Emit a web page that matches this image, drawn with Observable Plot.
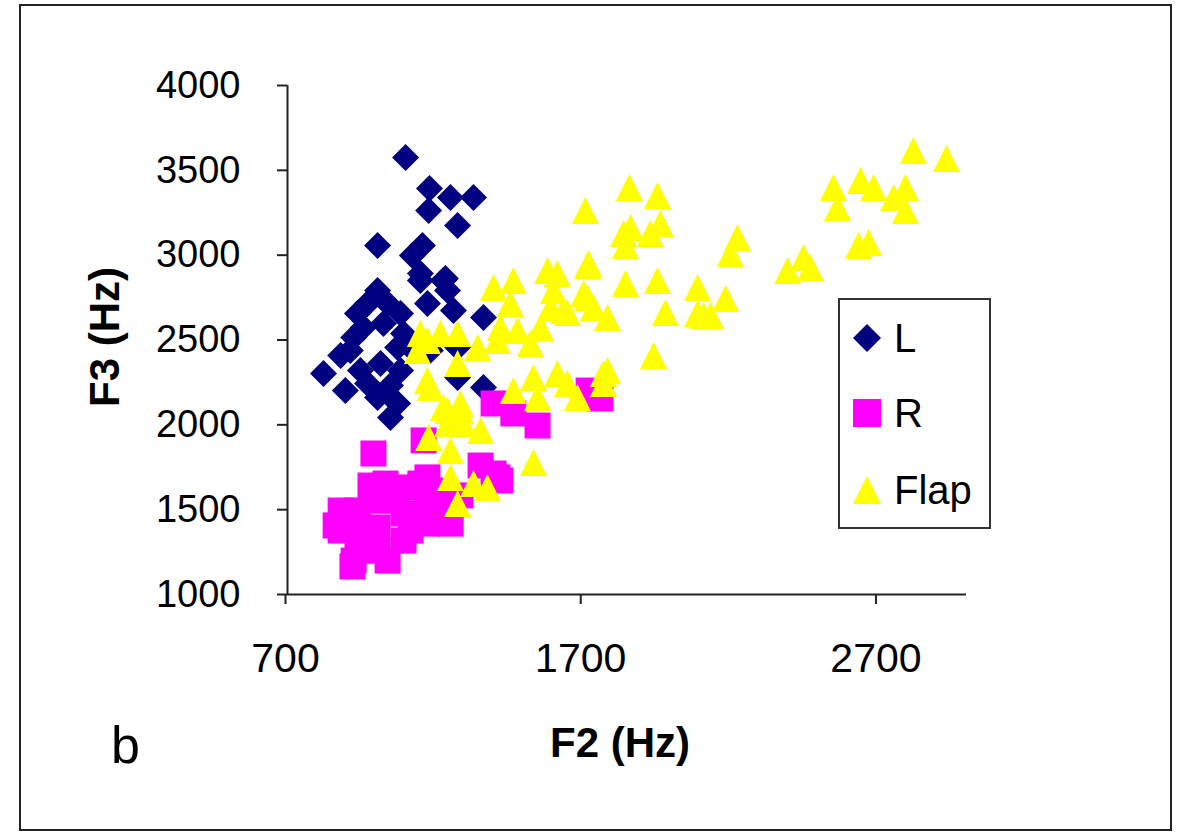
<!DOCTYPE html>
<html>
<head>
<meta charset="utf-8">
<script src="https://cdn.jsdelivr.net/npm/d3@7"></script>
<script src="https://cdn.jsdelivr.net/npm/@observablehq/plot@0.6"></script>
<style>
  html, body { margin: 0; padding: 0; background: #fff; }
  #wrap { position: relative; width: 1185px; height: 833px; overflow: hidden; font-family: "Liberation Sans", Arial, sans-serif; }
  #frame { position: absolute; left: 19px; top: 4px; width: 1149px; height: 823px; border: 2px solid #222; }
  #chart { position: absolute; left: 0; top: 0; }
  #legend { position: absolute; left: 838px; top: 298px; width: 149px; height: 227px; border: 2px solid #333; background: #fff; }
  .item { position: absolute; left: 0; height: 44px; display: flex; align-items: center; font-size: 40px; color: #000; }
  .item svg { margin-left: 13px; margin-right: 13px; }
</style>
</head>
<body>
<div id="wrap">
  <div id="frame"></div>
  <div id="chart"></div>
  <div id="legend"></div>
</div>
<script>
// ---- data ----
const seriesNames = ["L", "R", "Flap"];
const seriesColors = ["#000080", "#FF00FF", "#FFFF00"];
const xTicks = [700, 1700, 2700];
const yTicks = [1000, 1500, 2000, 2500, 3000, 3500, 4000];

const lF2 = [1100, 1181, 1252, 1330, 1178, 1276, 1005, 1123, 1157, 1150, 1235, 1242, 1005, 971, 937, 1039, 1083, 924, 913, 822, 947, 971, 1005, 1049, 1073, 1083, 1073, 1093, 1174, 1150, 1228, 1262, 1364, 1276, 1364, 1184, 1276, 1015, 957, 1025, 1117, 896, 880, 1049];
const lF3 = [3576, 3393, 3340, 3340, 3263, 3175, 3057, 2998, 3057, 2892, 2862, 2792, 2792, 2715, 2656, 2715, 2656, 2515, 2438, 2303, 2320, 2244, 2161, 2043, 2126, 2320, 2456, 2538, 2715, 2851, 2851, 2674, 2633, 2279, 2220, 2438, 2456, 2362, 2574, 2597, 2456, 2202, 2409, 2232];

const rF2 = [991, 1161, 1398, 1354, 1411, 1398, 1465, 1547, 1760, 1720, 1150, 880, 880, 924, 920, 1032, 1005, 1005, 1005, 1093, 1093, 1093, 1174, 1174, 1174, 1252, 1252, 1421, 947, 937, 1049, 1218, 937, 1039, 964, 1066, 1286, 1117, 1218, 863, 981];
const rF3 = [1831, 1908, 1713, 1760, 1690, 2126, 2067, 1996, 2155, 2202, 1654, 1377, 1495, 1200, 1165, 1654, 1554, 1395, 1259, 1631, 1477, 1318, 1690, 1554, 1418, 1495, 1418, 1672, 1395, 1495, 1554, 1613, 1301, 1200, 1259, 1584, 1584, 1377, 1436, 1407, 1642];

const flapF2 = [1581, 1716, 1845, 1953, 2089, 1398, 1465, 1601, 1455, 1591, 1648, 1716, 1784, 1980, 2089, 1940, 1174, 1218, 1276, 1344, 1411, 1523, 1276, 1174, 1533, 1614, 1648, 1465, 1547, 1682, 1770, 1770, 1228, 1286, 1178, 1242, 1296, 1354, 1252, 1533, 1252, 1330, 1377, 1276, 1140, 1479, 1421, 1557, 1858, 1953, 1838, 1862, 1929, 1963, 1845, 2224, 2200, 2394, 2448, 2471, 2549, 2563, 2641, 2685, 2753, 2793, 2793, 2820, 2932, 2634, 2668, 2184, 2109, 2133, 1784, 1709, 1720, 1614, 1635, 1703, 1736, 1150, 1184, 1242, 1286];
const flapF3 = [2910, 2939, 2833, 2851, 2809, 2809, 2851, 2792, 2715, 2692, 2662, 2750, 2633, 2662, 2656, 2409, 2497, 2538, 2538, 2456, 2497, 2479, 2362, 2261, 2279, 2303, 2244, 2202, 2161, 2161, 2303, 2244, 2102, 2126, 1925, 2008, 2008, 1967, 1849, 1778, 1690, 1654, 1631, 1536, 2438, 2556, 2574, 2574, 3399, 3352, 3128, 3163, 3128, 3187, 3057, 3104, 3010, 2910, 2986, 2927, 3399, 3281, 3440, 3399, 3340, 3399, 3263, 3617, 3570, 3057, 3075, 2745, 2644, 2644, 2320, 3263, 2951, 2892, 2674, 2774, 2692, 2538, 2220, 2085, 2085];

// ---- symbols ----
const diamond = { draw(ctx, size) { const r = Math.sqrt(size / Math.PI); ctx.moveTo(0, -r); ctx.lineTo(r, 0); ctx.lineTo(0, r); ctx.lineTo(-r, 0); ctx.closePath(); } };
const square = { draw(ctx, size) { const r = Math.sqrt(size / Math.PI); ctx.rect(-r, -r, 2 * r, 2 * r); } };
const triangle = { draw(ctx, size) { const r = Math.sqrt(size / Math.PI); ctx.moveTo(0, -r); ctx.lineTo(r, r); ctx.lineTo(-r, r); ctx.closePath(); } };

const toRows = (xs, ys, s) => xs.map((x, i) => ({ f2: x, f3: ys[i], s }));
const L = toRows(lF2, lF3, seriesNames[0]);
const R = toRows(rF2, rF3, seriesNames[1]);
const F = toRows(flapF2, flapF3, seriesNames[2]);

const chart = Plot.plot({
  width: 1185,
  height: 833,
  marginLeft: 287,
  marginRight: 219,
  marginTop: 85,
  marginBottom: 239,
  x: { domain: [700, 3000] },
  y: { domain: [1000, 4000] },
  style: { fontFamily: "'Liberation Sans', Arial, sans-serif", fontSize: "37px", color: "#000", background: "transparent", overflow: "visible" },
  marks: [
    Plot.ruleX([700], { stroke: "#222", strokeWidth: 2 }),
    Plot.ruleY([1000], { stroke: "#222", strokeWidth: 2 }),
    Plot.axisY({ ticks: yTicks, tickSize: 10, tickPadding: 37, tickFormat: "d", label: null, stroke: "#222", strokeWidth: 2, fontSize: 38 }),
    Plot.axisX({ ticks: xTicks, tickSize: 10, tickPadding: 38, tickFormat: "d", label: null, stroke: "#222", strokeWidth: 2, fontSize: 41, dx: -2 }),
    Plot.dot(L, { x: "f2", y: "f3", symbol: diamond, r: 13.5, fill: seriesColors[0], stroke: "none" }),
    Plot.dot(R, { x: "f2", y: "f3", symbol: square, r: 13, fill: seriesColors[1], stroke: "none" }),
    Plot.dot(F, { x: "f2", y: "f3", symbol: triangle, r: 13.5, fill: seriesColors[2], stroke: "none" }),
    Plot.text(["F2 (Hz)"], { frameAnchor: "bottom", dx: -7, dy: 162, fontSize: 42, fontWeight: "bold", fill: "#000" }),
    Plot.text(["F3 (Hz)"], { frameAnchor: "left", textAnchor: "middle", rotate: -90, dx: -182, dy: -3, fontSize: 42, fontWeight: "bold", fill: "#000" }),
    Plot.text(["b"], { frameAnchor: "bottom-left", textAnchor: "middle", dx: -162, dy: 168, fontSize: 52, fill: "#000" })
  ]
});
document.getElementById("chart").appendChild(chart);

// ---- legend ----
const shapes = [
  '<polygon points="14,0 28,14 14,28 0,14" />',
  '<rect x="0" y="0" width="28" height="28" />',
  '<polygon points="14,0 28,28 0,28" />'
];
const legend = document.getElementById("legend");
const tops = [16, 91, 168];
seriesNames.forEach((name, i) => {
  const d = document.createElement("div");
  d.className = "item";
  d.style.top = tops[i] + "px";
  d.innerHTML = `<svg width="28" height="28" viewBox="0 0 28 28" fill="${seriesColors[i]}">${shapes[i]}</svg><span>${name}</span>`;
  legend.appendChild(d);
});
</script>
</body>
</html>
